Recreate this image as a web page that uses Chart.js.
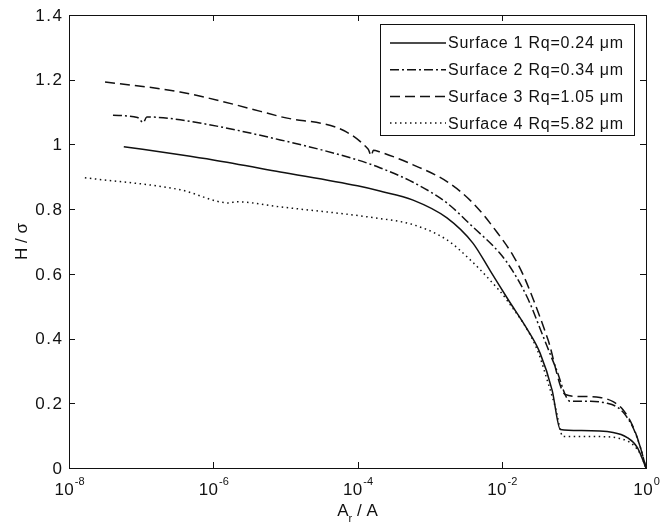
<!DOCTYPE html>
<html>
<head>
<meta charset="utf-8">
<script src="https://cdn.jsdelivr.net/npm/chart.js@4/dist/chart.umd.min.js"></script>
<style>
  html, body { margin: 0; padding: 0; background: #fff; }
  #wrap { width: 668px; height: 525px; }
</style>
</head>
<body>
<div id="wrap"><canvas id="chart" width="668" height="525"></canvas></div>
<script>
// series (x = Ar/A, y = H/sigma)
const s1X = [5.75e-8, 3.47e-7, 1e-6, 8.5e-6, 1e-4, 2.04e-4, 5.9e-4, 1.74e-3, 3.98e-3, 6.9e-3, 1.23e-2, 2.24e-2, 3.4e-2, 5.0e-2, 6.5e-2, 0.123, 0.35, 0.55, 0.76, 1];
const s1Y = [0.993, 0.968, 0.952, 0.915, 0.872, 0.856, 0.828, 0.773, 0.695, 0.610, 0.520, 0.430, 0.355, 0.240, 0.119, 0.116, 0.110, 0.094, 0.063, 0];

const s2X = [4.07e-8, 8.9e-8, 1.07e-7, 1.2e-7, 3.47e-7, 8.5e-6, 1e-4, 2.04e-4, 5.9e-4, 1.74e-3, 3.98e-3, 9.3e-3, 1.41e-2, 2.34e-2, 3.7e-2, 5.6e-2, 8.9e-2, 0.17, 0.29, 0.40, 0.50, 0.66, 0.83, 1];
const s2Y = [1.090, 1.083, 1.068, 1.085, 1.076, 1.014, 0.952, 0.928, 0.883, 0.819, 0.745, 0.665, 0.610, 0.520, 0.410, 0.310, 0.206, 0.206, 0.200, 0.188, 0.168, 0.125, 0.066, 0];

const s3X = [3.16e-8, 3.47e-7, 8.5e-6, 1.41e-4, 1.55e-4, 1.66e-4, 2.04e-4, 5.9e-4, 1.74e-3, 3.98e-3, 8.7e-3, 1.45e-2, 2.0e-2, 2.75e-2, 4.37e-2, 7.6e-2, 0.123, 0.23, 0.35, 0.48, 0.66, 0.83, 1];
const s3Y = [1.193, 1.162, 1.086, 0.985, 0.965, 0.982, 0.977, 0.937, 0.885, 0.819, 0.727, 0.655, 0.595, 0.520, 0.397, 0.227, 0.221, 0.218, 0.205, 0.180, 0.128, 0.066, 0];

const s4X = [1.66e-8, 3.47e-7, 1.7e-6, 2.0e-6, 8.5e-6, 1.74e-4, 5.9e-4, 1.74e-3, 3.63e-3, 6.9e-3, 1.17e-2, 3.1e-2, 4.37e-2, 5.5e-2, 7.1e-2, 0.21, 0.44, 0.66, 0.85, 1];
const s4Y = [0.897, 0.860, 0.819, 0.823, 0.807, 0.773, 0.752, 0.705, 0.644, 0.580, 0.520, 0.366, 0.264, 0.190, 0.097, 0.097, 0.091, 0.072, 0.040, 0];

const seriesLabels = ['Surface 1 Rq=0.24 \u03bcm', 'Surface 2 Rq=0.34 \u03bcm', 'Surface 3 Rq=1.05 \u03bcm', 'Surface 4 Rq=5.82 \u03bcm'];
const xTickValues = [1e-8, 1e-6, 1e-4, 1e-2, 1];
const xTickExps = ['-8', '-6', '-4', '-2', '0'];
const yTickValues = [0, 0.2, 0.4, 0.6, 0.8, 1, 1.2, 1.4];
const yTickLabels = ['0', '0.2', '0.4', '0.6', '0.8', '1', '1.2', '1.4'];

const ink = '#111';
const dashes = [[], [9, 3, 2, 3], [10, 5], [1.5, 3.5]];
const font = '"Liberation Sans", Arial, sans-serif';

function pts(xs, ys) { return xs.map((x, i) => ({ x, y: ys[i] })); }

// draw text with letter spacing, left edge at x
function spaced(ctx, txt, x, y, sp) {
  ctx.letterSpacing = sp + 'px';
  ctx.fillText(txt, x, y);
  ctx.letterSpacing = '0px';
}
function widthOf(ctx, txt, sp) {
  ctx.letterSpacing = sp + 'px';
  const w = ctx.measureText(txt).width - sp;
  ctx.letterSpacing = '0px';
  return w;
}

const frame = {
  id: 'frame',
  afterDraw(chart) {
    const { ctx, chartArea: a, scales } = chart;
    const xs = scales.x, ys = scales.y;
    ctx.save();
    ctx.strokeStyle = ink;
    ctx.lineWidth = 1;
    ctx.setLineDash([]);
    ctx.strokeRect(a.left + 0.5, a.top + 0.5, a.right - a.left, a.bottom - a.top);

    // inward ticks on all four sides
    ctx.beginPath();
    xTickValues.forEach(v => {
      const px = Math.round(xs.getPixelForValue(v)) + 0.5;
      ctx.moveTo(px, a.bottom); ctx.lineTo(px, a.bottom - 6);
      ctx.moveTo(px, a.top); ctx.lineTo(px, a.top + 6);
    });
    yTickValues.forEach(v => {
      const py = Math.round(ys.getPixelForValue(v)) + 0.5;
      ctx.moveTo(a.left, py); ctx.lineTo(a.left + 6, py);
      ctx.moveTo(a.right, py); ctx.lineTo(a.right - 6, py);
    });
    ctx.stroke();

    ctx.fillStyle = ink;
    ctx.textAlign = 'left';

    // y tick labels
    ctx.font = '17px ' + font;
    ctx.textBaseline = 'middle';
    yTickValues.forEach((v, i) => {
      const py = ys.getPixelForValue(v);
      const w = widthOf(ctx, yTickLabels[i], 1.5);
      spaced(ctx, yTickLabels[i], 62 - w, py + 1, 1.5);
    });

    // x tick labels 10^n
    ctx.textBaseline = 'alphabetic';
    xTickValues.forEach((v, i) => {
      const px = xs.getPixelForValue(v);
      ctx.font = '17px ' + font;
      const w10 = widthOf(ctx, '10', 0.5);
      ctx.font = '11px ' + font;
      const we = ctx.measureText(xTickExps[i]).width;
      const x0 = px - (w10 + we) / 2;
      ctx.font = '17px ' + font;
      spaced(ctx, '10', x0, 495, 0.5);
      ctx.font = '11px ' + font;
      ctx.fillText(xTickExps[i], x0 + w10 + 1, 485);
    });

    // axis titles
    ctx.font = '17px ' + font;
    const wA = ctx.measureText('A').width;
    const wS = ctx.measureText(' / A').width;
    ctx.font = '11px ' + font;
    const wr = ctx.measureText('r').width;
    const x0 = (a.left + a.right) / 2 - (wA + wr + wS) / 2;
    ctx.font = '17px ' + font;
    ctx.fillText('A', x0, 516);
    ctx.fillText(' / A', x0 + wA + wr, 516);
    ctx.font = '11px ' + font;
    ctx.fillText('r', x0 + wA, 522);

    ctx.save();
    ctx.translate(22, (a.top + a.bottom) / 2);
    ctx.rotate(-Math.PI / 2);
    ctx.font = '17px ' + font;
    ctx.textAlign = 'center';
    ctx.textBaseline = 'middle';
    ctx.fillText('H / \u03c3', 0, 0);
    ctx.restore();

    // legend box
    const bx = 380, by = 24, bw = 254, bh = 111;
    ctx.fillStyle = '#fff';
    ctx.fillRect(bx, by, bw, bh);
    ctx.strokeStyle = ink;
    ctx.lineWidth = 1;
    ctx.strokeRect(bx + 0.5, by + 0.5, bw, bh);
    chart.data.datasets.forEach((ds, i) => {
      const ry = by + 19 + i * 26.7;
      ctx.beginPath();
      ctx.setLineDash(ds.borderDash || []);
      ctx.lineWidth = ds.borderWidth;
      ctx.moveTo(390, ry); ctx.lineTo(446, ry);
      ctx.stroke();
      ctx.setLineDash([]);
      ctx.fillStyle = ink;
      ctx.font = '16px ' + font;
      ctx.textAlign = 'left';
      ctx.textBaseline = 'middle';
      spaced(ctx, ds.label, 448, ry + 1, 0.75);
    });
    ctx.restore();
  }
};

new Chart(document.getElementById('chart'), {
  type: 'line',
  data: {
    datasets: [s1X, s2X, s3X, s4X].map((xs, i) => ({
      label: seriesLabels[i],
      data: pts(xs, [s1Y, s2Y, s3Y, s4Y][i]),
      borderColor: ink,
      borderWidth: 1.5,
      borderDash: dashes[i],
      pointRadius: 0,
      fill: false,
      cubicInterpolationMode: 'monotone'
    }))
  },
  options: {
    responsive: false,
    animation: false,
    layout: { padding: { left: 0, right: 22, top: 15, bottom: 0 } },
    plugins: { legend: { display: false }, tooltip: { enabled: false } },
    scales: {
      x: {
        type: 'logarithmic',
        min: 1e-8,
        max: 1,
        afterBuildTicks: s => { s.ticks = xTickValues.map(v => ({ value: v })); },
        afterFit: s => { s.height = 57; },
        ticks: { display: false },
        grid: { display: false },
        border: { display: false }
      },
      y: {
        min: 0,
        max: 1.4,
        afterBuildTicks: s => { s.ticks = yTickValues.map(v => ({ value: v })); },
        afterFit: s => { s.width = 69; },
        ticks: { display: false },
        grid: { display: false },
        border: { display: false }
      }
    }
  },
  plugins: [frame]
});
</script>
</body>
</html>
